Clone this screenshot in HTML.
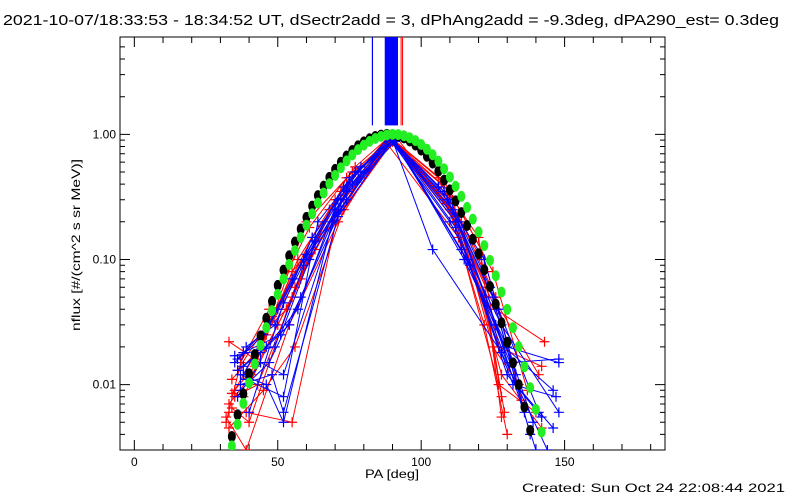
<!DOCTYPE html>
<html><head><meta charset="utf-8"><style>
body{margin:0;background:#fff}
svg{display:block;font-family:"Liberation Sans",sans-serif}
</style></head><body>
<svg id="chart" width="800" height="500" viewBox="0 0 800 500">
<defs><clipPath id="pc"><rect x="120" y="37" width="545" height="413"/></clipPath></defs>
<rect width="800" height="500" fill="#fff"/>
<text x="3" y="25" font-size="15" textLength="776" lengthAdjust="spacingAndGlyphs">2021-10-07/18:33:53 - 18:34:52 UT, dSectr2add = 3, dPhAng2add = -9.3deg, dPA290_est=  0.3deg</text>
<g id="axes"></g>
<g id="marks" clip-path="url(#pc)"></g>
<text x="392" y="478" font-size="12" text-anchor="middle" textLength="54" lengthAdjust="spacingAndGlyphs">PA [deg]</text>
<text transform="translate(80,245) rotate(-90)" font-size="12" text-anchor="middle" textLength="172" lengthAdjust="spacingAndGlyphs">nflux [#/(cm^2 s sr MeV)]</text>
<text x="785" y="492" font-size="12" text-anchor="end" textLength="263" lengthAdjust="spacingAndGlyphs">Created: Sun Oct 24 22:08:44 2021</text>
</svg>
<script>
const xTicks=[0,50,100,150];
const xTickLabels=["0","50","100","150"];
const yTicks=[1,0.1,0.01];
const yTickLabels=["1.00","0.10","0.01"];
const blackPA=[34,36,38,40,42,44,46,48,50,52,54,56,58,60,62,64,66,68,70,72,74,76,78,80,82,84,86,88,90,92,94,96,98,100,102,104,106,108,110,112,114,116,118,120,122,124,126,128,130,132,134,136,138,140];
const blackVal=[0.00385,0.00574,0.00844,0.0122,0.0174,0.0245,0.0339,0.0462,0.0621,0.0822,0.107,0.138,0.175,0.217,0.267,0.324,0.386,0.453,0.525,0.598,0.672,0.743,0.811,0.871,0.922,0.962,0.987,1.0,0.996,0.974,0.937,0.885,0.821,0.748,0.669,0.589,0.508,0.431,0.360,0.294,0.237,0.187,0.145,0.111,0.0827,0.0608,0.0440,0.0312,0.0218,0.0149,0.0100,0.00662,0.0043,0.0027];
const greenPA=[34,36,38,40,42,44,46,48,50,52,54,56,58,60,62,64,66,68,70,72,74,76,78,80,82,84,86,88,90,92,94,96,98,100,102,104,106,108,110,112,114,116,118,120,122,124,126,128,130,132,134,136,138,140,142,144];
const greenVal=[0.00324,0.00482,0.00708,0.0103,0.0146,0.0206,0.0285,0.039,0.0526,0.0698,0.0914,0.118,0.15,0.188,0.232,0.283,0.34,0.403,0.47,0.541,0.614,0.686,0.755,0.82,0.879,0.927,0.964,0.989,1.0,0.995,0.975,0.939,0.891,0.83,0.761,0.687,0.609,0.531,0.456,0.385,0.32,0.261,0.21,0.166,0.129,0.0984,0.0741,0.0548,0.0399,0.0285,0.0201,0.0139,0.00946,0.00634,0.00418,0.00271];
const redPA=[[33,42,57,72,89,108,122,128],[34,44,58,73,90,110,124,129],[33,41,55,70,88,107,121,127],[32,38,53,68,90,112,126,143],[34,40,56,74,89,111,125,134],[35,46,60,76,91,109,123,141],[32,39,54,71,88,113,127,140],[36,48,62,78,90,114,128,142],[33,39,55,72,89,106,120,128],[35,43,58,74,90,110,125,137],[37,47,61,77,89,108,121,132],[33,45,56,73,90,112,127,142],[38,50,63,79,91,115,126,135],[34,42,55,70,88,109,122,130]];
const redVal=[[0.022,0.016,0.1,0.35,0.95,0.3,0.05,0.008],[0.011,0.02,0.09,0.3,0.9,0.25,0.03,0.006],[0.007,0.012,0.05,0.3,0.93,0.4,0.1,0.02],[0.005,0.018,0.04,0.25,0.88,0.2,0.04,0.022],[0.0065,0.005,0.06,0.45,0.9,0.3,0.02,0.01],[0.009,0.025,0.2,0.5,0.97,0.28,0.06,0.012],[0.0055,0.003,0.03,0.2,0.85,0.15,0.01,0.006],[0.013,0.035,0.15,0.5,0.92,0.2,0.012,0.0045],[0.006,0.006,0.005,0.3,0.95,0.45,0.15,0.0055],[0.008,0.01,0.07,0.35,0.9,0.35,0.08,0.009],[0.015,0.04,0.18,0.55,0.96,0.42,0.12,0.015],[0.0045,0.009,0.02,0.25,0.87,0.22,0.02,0.014],[0.008,0.03,0.12,0.45,0.9,0.18,0.05,0.0075],[0.0085,0.014,0.08,0.2,0.93,0.3,0.03,0.004]];
const bluePA=[[36,47,59,74,90,114,130,148],[37,46,52,70,89,110,128,148],[38,51,61,76,90,112,132,147],[36,44,52,72,91,116,133,146],[35,45,55,73,89,108,125,138],[38,50,60,75,90,109,127,141],[37,48,52,71,90,104,128,144],[39,49,62,78,90,117,131,148],[36,46,57,71,89,111,126,140],[40,52,63,77,90,113,129,146],[37,47,58,72,88,110,124,136],[35,49,59,74,90,112,130,142],[38,44,54,69,89,106,122,133],[39,52,64,79,91,115,132,139]];
const blueVal=[[0.016,0.03,0.1,0.3,0.9,0.12,0.02,0.015],[0.012,0.01,0.005,0.25,0.92,0.2,0.03,0.006],[0.018,0.025,0.1,0.4,0.9,0.18,0.01,0.008],[0.008,0.015,0.012,0.3,0.88,0.1,0.01,0.0045],[0.015,0.025,0.07,0.38,0.95,0.35,0.05,0.004],[0.012,0.04,0.11,0.45,0.9,0.3,0.04,0.006],[0.01,0.012,0.006,0.22,0.9,0.12,0.018,0.003],[0.02,0.03,0.15,0.5,0.95,0.09,0.015,0.016],[0.013,0.02,0.04,0.3,0.92,0.25,0.03,0.003],[0.006,0.045,0.14,0.5,0.9,0.2,0.02,0.009],[0.009,0.015,0.05,0.25,0.93,0.3,0.06,0.006],[0.017,0.02,0.09,0.35,0.91,0.2,0.012,0.0055],[0.014,0.018,0.03,0.2,0.94,0.38,0.1,0.012],[0.011,0.008,0.2,0.55,0.88,0.1,0.015,0.005]];
const blueSpikePA=[83,87.5,87.8,88.1,88.4,88.7,89,89.3,89.6,89.9,90.2,90.5,90.8,91.1,91.4,91.7];
const redSpikePA=[88,91,93,93.5];
const spikeBase=1.18;

const NS="http://www.w3.org/2000/svg";
const X0=120,X1=665,Y0=37,Y1=450,XMIN=-5,XMAX=185,LMIN=Math.log10(0.003),LMAX=Math.log10(6);
function sx(v){return X0+(v-XMIN)/(XMAX-XMIN)*(X1-X0);}
function sy(v){return Y1-(Math.log10(v)-LMIN)/(LMAX-LMIN)*(Y1-Y0);}
function mk(tag,at,parent){const e=document.createElementNS(NS,tag);for(const k in at)e.setAttribute(k,at[k]);parent.appendChild(e);return e;}
const axes=document.getElementById('axes'),marks=document.getElementById('marks');

const frame=mk('rect',{x:X0,y:Y0,width:X1-X0,height:Y1-Y0,fill:'none',stroke:'#000','stroke-width':1},axes);


for(let v=0;v<=180;v+=10){
  const major=xTicks.includes(v),len=major?10:6,x=sx(v);
  const t=mk('path',{d:`M${x} ${Y1}v${-len}M${x} ${Y0}v${len}`,stroke:'#000'},axes);
  
  
}
xTicks.forEach((v,i)=>{
  const t=mk('text',{x:sx(v),y:466,'font-size':12,'text-anchor':'middle'},axes);t.textContent=xTickLabels[i];
  
  
});
for(let d=-3;d<=0;d++){for(let m=1;m<=9;m++){
  const v=m*Math.pow(10,d);if(v<0.003||v>6)continue;
  const len=m===1?10:5,y=sy(v);
  const t=mk('path',{d:`M${X0} ${y}h${len}M${X1} ${y}h${-len}`,stroke:'#000'},axes);
  
  
}}
yTicks.forEach((v,i)=>{
  const t=mk('text',{x:116,y:sy(v)+4,'font-size':12,'text-anchor':'end'},axes);t.textContent=yTickLabels[i];
  
  
});
function trace(pa,val,color,name){
  const g=mk('g',{},marks);
  
  
  const pts=pa.map((p,i)=>sx(p).toFixed(1)+','+sy(val[i]).toFixed(1)).join(' ');
  mk('polyline',{points:pts,fill:'none',stroke:color,'stroke-width':1},g);
  let d='';pa.forEach((p,i)=>{const x=sx(p),y=sy(val[i]);d+=`M${x-5} ${y}h10M${x} ${y-5}v10`;});
  mk('path',{d:d,stroke:color,'stroke-width':1.2},g);
}
redPA.forEach((pa,i)=>trace(pa,redVal[i],'#ff0000','red-trace'));
bluePA.forEach((pa,i)=>trace(pa,blueVal[i],'#0000ff','blue-trace'));
redSpikePA.forEach(p=>{
  const l=mk('line',{x1:sx(p),x2:sx(p),y1:Y0,y2:sy(spikeBase),stroke:'#ff0000','stroke-width':1},marks);
  
  
});
blueSpikePA.forEach(p=>{
  const l=mk('line',{x1:sx(p),x2:sx(p),y1:Y0,y2:sy(spikeBase),stroke:'#0000ff','stroke-width':1.2},marks);
  
  
});
blackPA.forEach((p,i)=>{
  const c=mk('ellipse',{cx:sx(p),cy:sy(blackVal[i]),rx:4,ry:5.5,fill:'#000'},marks);
  
  
});
greenPA.forEach((p,i)=>{
  const c=mk('ellipse',{cx:sx(p),cy:sy(greenVal[i]),rx:4,ry:5.5,fill:'#22ee22'},marks);
  
  
});
</script>
</body></html>
